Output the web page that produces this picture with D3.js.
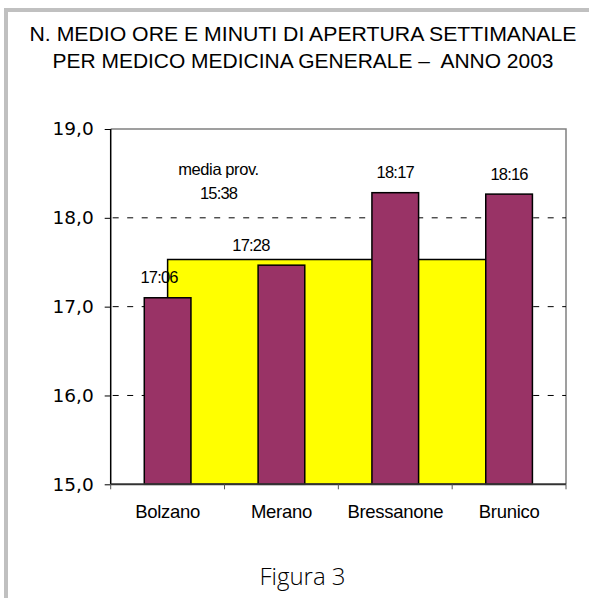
<!DOCTYPE html>
<html>
<head>
<meta charset="utf-8">
<script src="https://cdn.jsdelivr.net/npm/d3@7"></script>
<style>
  html, body { margin: 0; padding: 0; background: #fff; }
  svg { display: block; }
</style>
</head>
<body>
<svg id="chart" width="589" height="598"></svg>
<script>
const titleLines = [
    'N. MEDIO ORE E MINUTI DI APERTURA SETTIMANALE',
    'PER MEDICO MEDICINA GENERALE \u2013  ANNO 2003'
]
const categories = ['Bolzano', 'Merano', 'Bressanone', 'Brunico']
const hours = [17.1, 17.467, 18.283, 18.267]
const hourLabels = ['17:06', '17:28', '18:17', '18:16']
const provMean = [17.53, 17.53, 17.53, 17.53]
const meanLabel = ['media prov.', '15:38']
const yTicks = [15, 16, 17, 18, 19]
const gridTicks = [16, 17, 18]
const caption = 'Figura 3'

// labels moved by hand in the original
const labelShift = { Bolzano: -8.5, Merano: -30.5 }

const plot = { left: 110.7, right: 566, top: 129, bottom: 484.3 }
const purple = '#993366'
const yellow = '#ffff00'

function loadChart(id) {
    return d3.select(`#${id}`)
}

function drawFrame(chart) {
    chart.append('rect')
        .attr('x', 6).attr('y', 10)
        .attr('width', 700).attr('height', 700)
        .attr('fill', '#fff')
        .attr('stroke', '#c0c0c0')
        .attr('stroke-width', 4)
}

function drawTitle(chart) {
    const widths = [547, 501]
    chart.selectAll()
        .data(titleLines)
        .enter()
        .append('text')
        .attr('x', 303)
        .attr('y', (d, i) => 40.7 + i * 27)
        .attr('text-anchor', 'middle')
        .attr('font-family', 'Liberation Sans, Arial, sans-serif')
        .attr('font-size', 19.5)
        .attr('textLength', (d, i) => widths[i])
        .attr('lengthAdjust', 'spacingAndGlyphs')
        .style('white-space', 'pre')
        .attr('fill', '#000')
        .text(d => d)

    chart.append('text')
        .attr('x', 302.5)
        .attr('y', 585)
        .attr('text-anchor', 'middle')
        .attr('font-family', 'Open Sans, sans-serif')
        .attr('font-weight', 300)
        .attr('font-size', 24)
        .attr('fill', '#000')
        .text(caption)
}

function drawChart(chart) {
    const xOuter = d3.scaleBand().domain(categories).range([plot.left, plot.right]).padding(0)
    const xBar = d3.scaleBand().domain(categories).range([plot.left, plot.right])
        .paddingInner(0.59).paddingOuter(0.295)
    const y = d3.scaleLinear().domain([15, 19]).range([plot.bottom, plot.top])
    const center = c => xOuter(c) + xOuter.bandwidth() / 2

    const g = chart.append('g')

    // plot area border top/right
    g.append('path')
        .attr('d', `M${plot.left},${plot.top}H${plot.right}V${plot.bottom}`)
        .attr('fill', 'none')
        .attr('stroke', '#808080')
        .attr('stroke-width', 1.5)

    g.selectAll()
        .data(gridTicks)
        .enter()
        .append('line')
        .attr('x1', plot.left + 2).attr('x2', plot.right)
        .attr('y1', d => y(d)).attr('y2', d => y(d))
        .attr('stroke', '#000')
        .attr('stroke-width', 1)
        .attr('stroke-dasharray', '6,8.5')

    // provincial mean as a flat area behind the bars
    const meanData = categories.map((c, i) => ({ c, v: provMean[i] }))
    const area = d3.area()
        .x(d => center(d.c))
        .y0(y(15))
        .y1(d => y(d.v))
    g.append('path')
        .datum(meanData)
        .attr('d', area)
        .attr('fill', yellow)
        .attr('stroke', '#000')
        .attr('stroke-width', 1.5)

    const barData = categories.map((c, i) => ({ c, v: hours[i], label: hourLabels[i] }))
    g.selectAll()
        .data(barData)
        .enter()
        .append('rect')
        .attr('x', d => xBar(d.c))
        .attr('y', d => y(d.v))
        .attr('width', xBar.bandwidth())
        .attr('height', d => y(15) - y(d.v))
        .attr('fill', purple)
        .attr('stroke', '#000')
        .attr('stroke-width', 1.5)

    g.selectAll()
        .data(barData)
        .enter()
        .append('text')
        .attr('x', d => center(d.c) + (labelShift[d.c] || 0))
        .attr('y', d => y(d.v) - 14.5)
        .attr('text-anchor', 'middle')
        .attr('font-family', 'Liberation Sans, Arial, sans-serif')
        .attr('font-size', 16.5)
        .attr('letter-spacing', -0.8)
        .attr('fill', '#000')
        .text(d => d.label)

    g.selectAll()
        .data(meanLabel)
        .enter()
        .append('text')
        .attr('x', xOuter('Merano') - 6)
        .attr('y', (d, i) => y(18.48) + i * 24.3)
        .attr('text-anchor', 'middle')
        .attr('font-family', 'Liberation Sans, Arial, sans-serif')
        .attr('font-size', 16.5)
        .attr('letter-spacing', (d, i) => (i ? -0.8 : -0.4))
        .attr('fill', '#000')
        .text(d => d)

    // y axis
    const yAxis = d3.axisLeft(y)
        .tickValues(yTicks)
        .tickSize(6)
        .tickPadding(11)
        .tickFormat(d => d3.format('.1f')(d).replace('.', ','))
    const ya = g.append('g')
        .attr('transform', `translate(${plot.left},0)`)
        .call(yAxis)
    ya.select('.domain').attr('stroke', '#000').attr('stroke-width', 1.5)
        .attr('d', `M0,${plot.top}V${plot.bottom}`)
    ya.selectAll('.tick line').attr('stroke', '#000')
    ya.selectAll('.tick text')
        .attr('font-family', 'DejaVu Sans, Verdana, sans-serif')
        .attr('font-size', 18.5)
        .attr('fill', '#000')

    // x axis: ticks on band edges, labels in band centers
    const edges = categories.map(c => xOuter(c)).concat([plot.right])
    g.append('line')
        .attr('x1', plot.left).attr('x2', plot.right)
        .attr('y1', plot.bottom).attr('y2', plot.bottom)
        .attr('stroke', '#333')
        .attr('stroke-width', 2)
    g.selectAll()
        .data(edges)
        .enter()
        .append('line')
        .attr('x1', d => d).attr('x2', d => d)
        .attr('y1', plot.bottom).attr('y2', plot.bottom + 5)
        .attr('stroke', '#555')
        .attr('stroke-width', 1)
    g.selectAll()
        .data(categories)
        .enter()
        .append('text')
        .attr('x', d => center(d))
        .attr('y', 518.3)
        .attr('text-anchor', 'middle')
        .attr('font-family', 'Liberation Sans, Arial, sans-serif')
        .attr('font-size', 18.5)
        .attr('letter-spacing', -0.3)
        .attr('fill', '#000')
        .text(d => d)
}

function main() {
    const chart = loadChart('chart')
    drawFrame(chart)
    drawTitle(chart)
    drawChart(chart)
}

main()
</script>
</body>
</html>
